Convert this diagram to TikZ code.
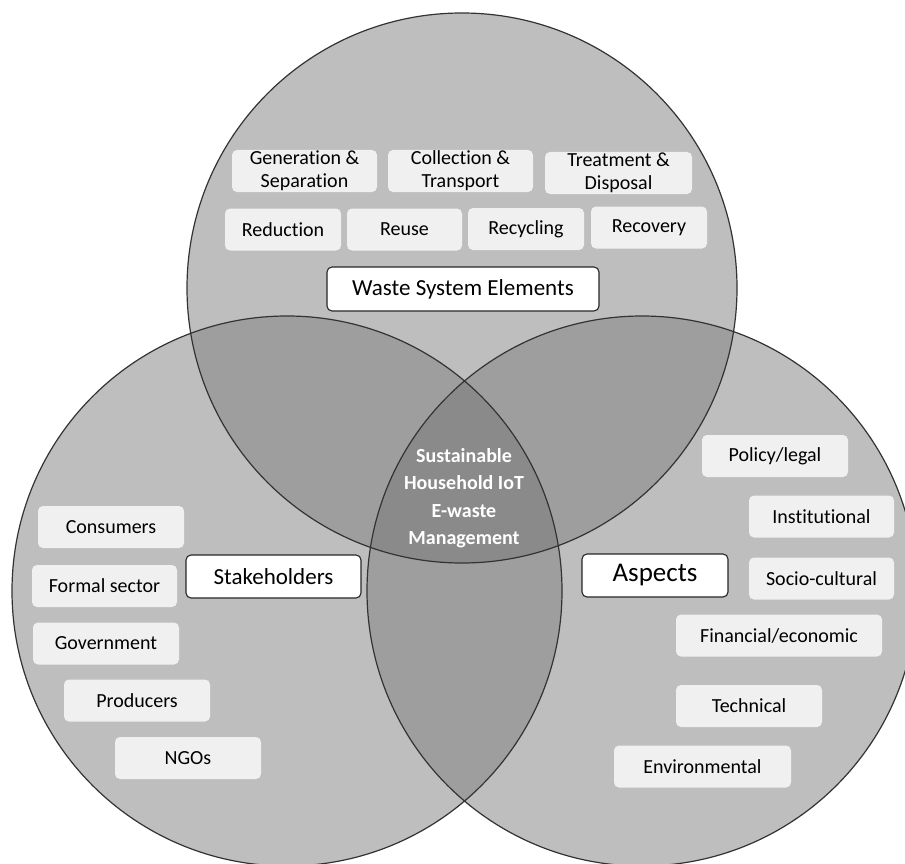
\documentclass[tikz,border=0pt]{standalone}
\usepackage{fontspec}
\setmainfont{Carlito}[Ligatures={NoCommon}]
\usetikzlibrary{positioning}
\definecolor{ringgray}{gray}{0.745}
\definecolor{pairgray}{gray}{0.62}
\definecolor{coregray}{gray}{0.54}
\definecolor{boxgray}{gray}{0.94}
\tikzset{
  item/.style={fill=boxgray,rounded corners=5pt,inner sep=0pt,minimum height=42pt,align=center,font=\fontsize{20}{23}\selectfont},
  tag/.style={draw=black!85,fill=white,rounded corners=5pt,line width=1.1pt,inner sep=0pt,minimum height=43pt,font=\fontsize{23}{26}\selectfont},
  ring/.style={line width=1.2pt,draw=black!80}
}
\begin{document}
\begin{tikzpicture}[x=1pt,y=-1pt]
\clip (0,0) rectangle (905,864);
\fill[white] (0,0) rectangle (905,864);
\coordinate (top) at (462,288);
\coordinate (lft) at (287,591);
\coordinate (rgt) at (642,591);
\foreach \c in {top,lft,rgt} \fill[ringgray] (\c) circle (275pt);
\begin{scope}
 \clip (top) circle (275pt);
 \fill[pairgray] (lft) circle (275pt);
 \fill[pairgray] (rgt) circle (275pt);
\end{scope}
\begin{scope}
 \clip (lft) circle (275pt);
 \fill[pairgray] (rgt) circle (275pt);
 \clip (rgt) circle (275pt);
 \fill[coregray] (top) circle (275pt);
\end{scope}
\foreach \c in {top,lft,rgt} \draw[ring] (\c) circle (275pt);
\foreach \n/\x/\y/\w/\t in {gen/304.5/171/145/{Generation \&\\Separation},
  col/460.5/171/145/{Collection \&\\Transport}, trt/618.5/173/147/{Treatment \&\\Disposal},
  red/283/229.5/116/Reduction, reu/404.5/229.5/115/Reuse,
  rcy/526/229/116/Recycling, rcv/649/227.5/116/Recovery}
  \node[item,minimum width=\w pt] (\n) at (\x,\y) {\t};
\node[tag,minimum width=272pt,minimum height=44pt] (waste) at (463,289) {Waste System Elements};
\foreach \n/\x/\y/\w/\t in {con/111/527/146/Consumers, frm/104.5/586/145/Formal sector,
  gov/106/643.5/146/Government, pro/137/700.5/146/Producers, ngo/188/758/146/NGOs}
  \node[item,minimum width=\w pt] (\n) at (\x,\y) {\t};
\node[tag,minimum width=175pt] (stake) at (273.5,576.5) {Stakeholders};
\foreach \n/\x/\y/\w/\t in {pol/775/456/146/{Policy/legal}, ins/821.5/516.5/145/Institutional,
  soc/821.5/578.5/145/Socio-cultural, fin/779/635.5/206/{Financial/economic},
  tec/749/706/146/Technical, env/702.5/766.5/177/Environmental}
  \node[item,minimum width=\w pt] (\n) at (\x,\y) {\t};
\node[tag,minimum width=146pt,font=\fontsize{27}{30}\selectfont] (asp) at (655,575.5) {Aspects};
\node[align=center,text=white,font=\bfseries\fontsize{20}{27.5}\selectfont] (core) at (464,498)
 {Sustainable\\Household IoT\\E-waste\\Management};
\end{tikzpicture}
\end{document}
